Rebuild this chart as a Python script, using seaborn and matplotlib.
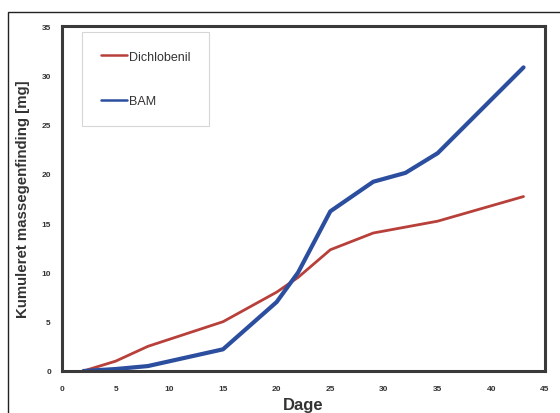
import matplotlib
matplotlib.use("Agg")
import matplotlib.pyplot as plt
from matplotlib.patches import Rectangle
import seaborn as sns
import pandas as pd

days = [2, 5, 8, 15, 20, 22, 25, 29, 32, 35, 43]
dichlobenil = [0, 1.0, 2.5, 5.0, 8.0, 9.5, 12.3, 14.0, 14.6, 15.2, 17.7]
bam = [0, 0.2, 0.5, 2.2, 7.0, 10.0, 16.2, 19.2, 20.1, 22.1, 30.8]
series_names = ["Dichlobenil", "BAM"]
x_ticks = [0, 5, 10, 15, 20, 25, 30, 35, 40, 45]
y_ticks = [0, 5, 10, 15, 20, 25, 30, 35]

df = pd.DataFrame({
    "Dage": days * 2,
    "value": dichlobenil + bam,
    "serie": [series_names[0]] * len(days) + [series_names[1]] * len(days),
})

sns.set_theme(style="white")
plt.rcParams["font.family"] = ["Liberation Sans", "DejaVu Sans"]

fig = plt.figure(figsize=(5.6, 4.14), dpi=100)
ax = fig.add_axes([62/560, 1-372/414, (545-62)/560, (372-27)/414])

palette = {"Dichlobenil": "#b8403a", "BAM": "#2c4e9e"}
sns.lineplot(data=df, x="Dage", y="value", hue="serie", palette=palette,
             ax=ax, linewidth=2.0, legend=True)
ax.lines[1].set_linewidth(3.0)

ax.set_xlim(0, 45)
ax.set_ylim(0, 35)
ax.set_xticks(x_ticks)
ax.set_yticks(y_ticks)
ax.tick_params(direction="in", length=3, width=1.2, labelsize=6, colors="#333333")
ax.tick_params(axis="x", pad=10)
ax.tick_params(axis="y", pad=8)
for lab in ax.get_xticklabels() + ax.get_yticklabels():
    lab.set_fontweight("bold")
for sp in ax.spines.values():
    sp.set_visible(True)
    sp.set_linewidth(2.2)
    sp.set_color("#3a3a3a")

ax.set_xlabel("Dage", fontsize=12, fontweight="bold", color="#333333", labelpad=4)
ax.set_ylabel("Kumuleret massegenfinding [mg]", fontsize=10.8, fontweight="bold",
              color="#333333", labelpad=8)

leg = ax.legend(title=None, loc="upper left", bbox_to_anchor=(0.041, 0.983),
                frameon=True, fontsize=9, handlelength=2.1, handletextpad=0.15,
                labelspacing=2.6, borderpad=1.5, fancybox=False, borderaxespad=0)
leg.get_frame().set_edgecolor("#cccccc")
leg.get_frame().set_linewidth(0.8)
for t in leg.get_texts():
    t.set_color("#333333")
for h in leg.get_lines():
    h.set_linewidth(1.8)

fig.patches.append(Rectangle((8/560, -0.05), 1, 1.05-13/414, transform=fig.transFigure,
                             fill=False, edgecolor="#222222", linewidth=1.0))

fig.savefig("out.png", dpi=100)
